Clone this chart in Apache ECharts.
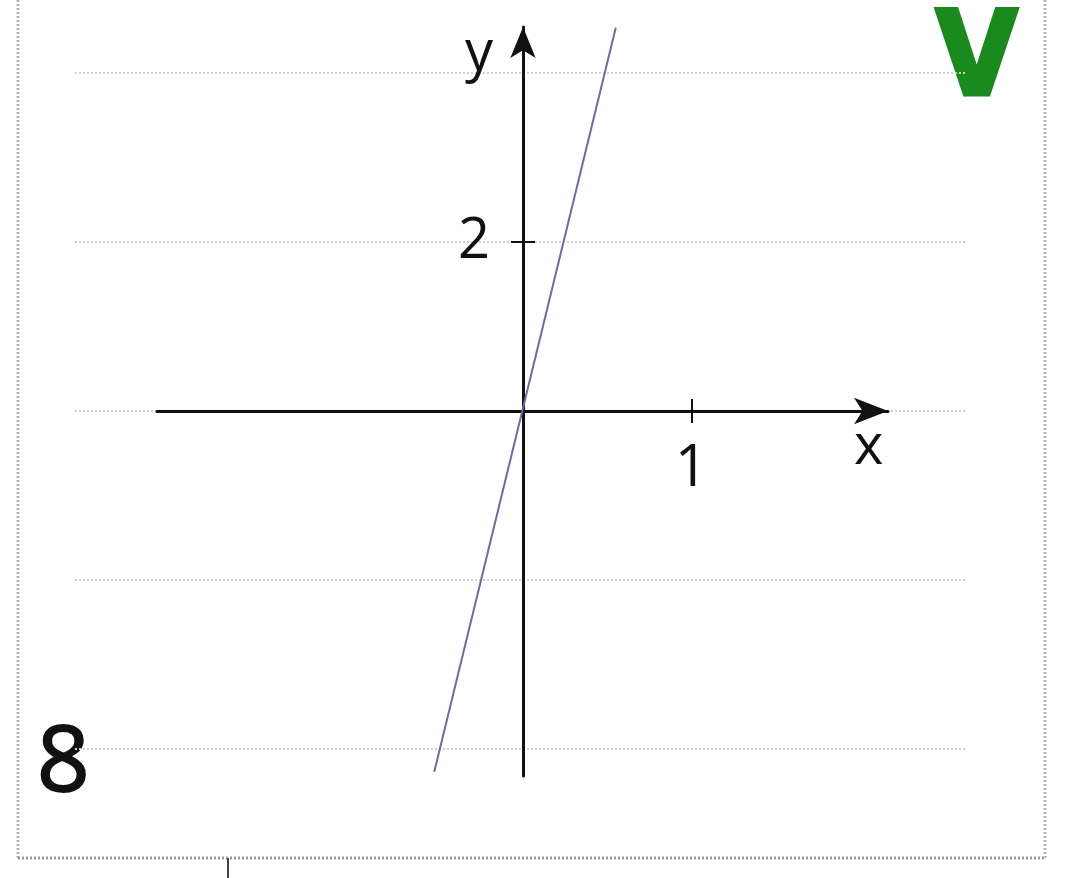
<!DOCTYPE html>
<html>
<head>
<meta charset="utf-8">
<script src="https://cdn.jsdelivr.net/npm/echarts@6/dist/echarts.min.js"></script>
<style>
html,body{margin:0;padding:0;background:#fff;}
#c{width:1085px;height:878px;}
</style>
</head>
<body>
<div id="c"></div>
<script>
// ---- data ----
const lineX = [-0.53, 0.55];          // end points of the graph of y = 8x
const lineY = [-4.27, 4.53];
const xTickValues = [1];
const yTickValues = [2];
const xRange = [-2.18, 2.17];
const yRange = [-4.32, 4.54];
const bgRange = [-4, 4];              // faint background rules
const bgStep = 2;
const xName = 'x';
const yName = 'y';
const coefficientLabel = '8';
const markLabel = 'V';

const lineData = lineX.map((x, i) => [x, lineY[i]]);

const FONT = '"Open Sans", "DejaVu Sans", sans-serif';
const INK = '#111';

// layout of the plotting area (pixels)
const PLOT = { left: 157, right: 197, top: 27, bottom: 102 };
const ORIGIN_Y_FROM_BOTTOM = 467;     // x-axis line sits on y = 0
const ORIGIN_X_FROM_LEFT = 523;       // y-axis line sits on x = 0

const hiddenAxis = (gridIndex) => ({
  type: 'value', gridIndex, min: 0, max: 1, show: false,
  axisLine: { show: false, onZero: false }, splitLine: { show: false }
});

function xAxisPart(primary) {
  return {
    type: 'value', gridIndex: 1, position: 'bottom', min: xRange[0], max: xRange[1],
    axisLine: primary ? {
      show: true, onZero: false,
      symbol: ['none', 'arrow'], symbolSize: [20, 34],
      lineStyle: { color: INK, width: 3 }
    } : { show: false, onZero: false },
    axisTick: { show: true, inside: !primary, length: 12, customValues: xTickValues,
      lineStyle: { color: INK, width: 2 } },
    axisLabel: primary ? { show: true, customValues: xTickValues, margin: 29,
      fontSize: 58, color: INK, fontFamily: FONT } : { show: false },
    splitLine: { show: false },
    name: primary ? xName : '',
    nameLocation: 'end', nameGap: -34,
    nameTextStyle: { fontSize: 56, color: INK, fontFamily: FONT, align: 'left',
      verticalAlign: 'top', padding: [9, 0, 0, 0] },
    z: 5
  };
}
function yAxisPart(primary) {
  return {
    type: 'value', gridIndex: 2, position: 'left', min: yRange[0], max: yRange[1],
    axisLine: primary ? {
      show: true, onZero: false,
      symbol: ['none', 'arrow'], symbolSize: [19, 31],
      lineStyle: { color: INK, width: 3 }
    } : { show: false, onZero: false },
    axisTick: { show: true, inside: !primary, length: 12, customValues: yTickValues,
      lineStyle: { color: INK, width: 2 } },
    axisLabel: primary ? { show: true, customValues: yTickValues, margin: 33,
      fontSize: 56, color: INK, fontFamily: FONT } : { show: false },
    splitLine: { show: false },
    name: primary ? yName : '',
    nameLocation: 'end', nameGap: -27,
    nameTextStyle: { fontSize: 56, color: INK, fontFamily: FONT, align: 'right',
      verticalAlign: 'middle', padding: [0, 30, 0, 0] },
    z: 5
  };
}

const chart = echarts.init(document.getElementById('c'), null, { renderer: 'canvas' });
chart.setOption({
  backgroundColor: '#ffffff',
  animation: false,
  grid: [
    { left: PLOT.left, right: PLOT.right, top: PLOT.top, bottom: PLOT.bottom },
    { left: PLOT.left, right: PLOT.right, top: PLOT.top, bottom: ORIGIN_Y_FROM_BOTTOM },
    { left: ORIGIN_X_FROM_LEFT, right: PLOT.right, top: PLOT.top, bottom: PLOT.bottom },
    { left: 75, right: 120, top: 73, bottom: 129 }
  ],
  xAxis: [
    { type: 'value', gridIndex: 0, min: xRange[0], max: xRange[1], show: false,
      axisLine: { onZero: false }, splitLine: { show: false } },
    xAxisPart(true),
    xAxisPart(false),
    hiddenAxis(2),
    hiddenAxis(3)
  ],
  yAxis: [
    { type: 'value', gridIndex: 0, min: yRange[0], max: yRange[1], show: false,
      axisLine: { onZero: false }, splitLine: { show: false } },
    hiddenAxis(1),
    yAxisPart(true),
    yAxisPart(false),
    { type: 'value', gridIndex: 3, min: bgRange[0], max: bgRange[1], interval: bgStep,
      axisLine: { show: false, onZero: false }, axisTick: { show: false }, axisLabel: { show: false },
      splitLine: { show: true, lineStyle: { color: '#cfcfcf', type: 'dotted', width: 2 } }, z: 0 }
  ],
  series: [
    { type: 'line', xAxisIndex: 0, yAxisIndex: 0, data: lineData, showSymbol: false,
      lineStyle: { color: '#6e6c9e', width: 2 }, z: 6, silent: true }
  ],
  graphic: [
    { type: 'line', shape: { x1: 18, y1: 0, x2: 18, y2: 858 },
      style: { stroke: '#b5b5b5', lineWidth: 3, lineDash: [2, 2] }, z: -1 },
    { type: 'line', shape: { x1: 18, y1: 858, x2: 1045, y2: 858 },
      style: { stroke: '#9a9a9a', lineWidth: 3, lineDash: [2, 2] }, z: -1 },
    { type: 'line', shape: { x1: 1045, y1: 0, x2: 1045, y2: 858 },
      style: { stroke: '#b5b5b5', lineWidth: 3, lineDash: [2, 2] }, z: -1 },
    { type: 'line', shape: { x1: 228, y1: 858, x2: 228, y2: 878 },
      style: { stroke: '#444', lineWidth: 2 }, z: -1 },
    { type: 'text', left: 36, top: 718,
      style: { text: coefficientLabel, fontSize: 92, fontFamily: FONT, fill: INK,
        stroke: INK, lineWidth: 2 } },
    { type: 'text', left: 934, top: 3, scaleX: 0.9,
      style: { text: markLabel, fontSize: 116, fontWeight: 'bold', fontFamily: '"DejaVu Sans", sans-serif',
        fill: '#1b8a1e', stroke: '#1b8a1e', lineWidth: 5, lineJoin: 'round' } }
  ]
});
</script>
</body>
</html>
